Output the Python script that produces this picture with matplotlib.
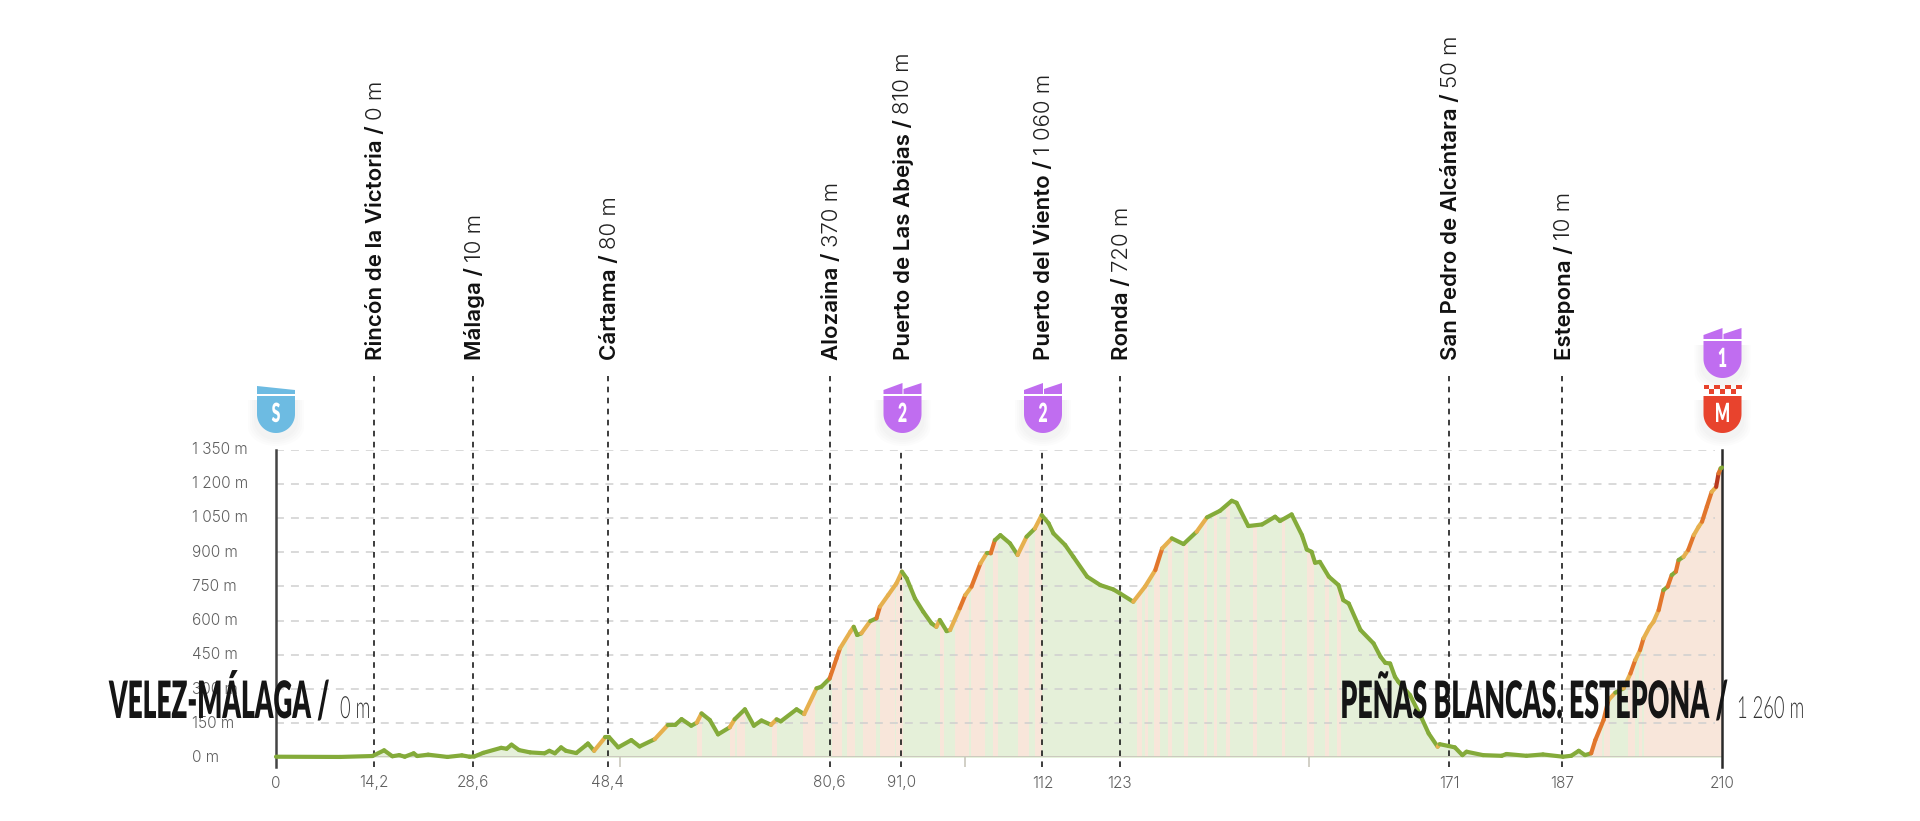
import numpy as np
import matplotlib
matplotlib.use("Agg")
import matplotlib.pyplot as plt
from matplotlib.collections import LineCollection
from matplotlib.patches import Polygon, Rectangle
from matplotlib.patheffects import AbstractPathEffect
from matplotlib.transforms import Affine2D

# profile: km, metres
km = [0, 9.3, 14, 15.7, 16.9, 17.9, 18.7, 20, 20.5, 22.1, 24.9, 27, 28.1, 28.8, 30.1, 32.7, 33.5, 34.2, 35.3, 36.9,
      39, 39.7, 40.5, 41.4, 42.1, 43.6, 45, 45.3, 46.2, 47.8, 48.4, 49.7, 51.6, 52.8, 55, 56.9, 58, 58.9, 60.3, 61.1,
      61.8, 63, 64.2, 65.9, 66.6, 68.1, 69.4, 70.5, 71.9, 72.7, 73.3, 75.6, 76.7, 78.5, 79.2, 80.4, 81.4, 81.9, 83.4, 83.9,
      84.4, 85, 86.3, 87.2, 87.7, 88.9, 90.1, 90.9, 91.6, 92.8, 94, 95.2, 95.9, 96.4, 97.4, 97.9, 99.3, 100.1, 101, 102.3,
      103.2, 103.8, 104.4, 105.2, 106.6, 107.7, 109, 110.2, 111.2, 112.2, 112.9, 114.6, 115.8, 117.8, 119.7, 121.6, 122.6, 124.5, 126.2, 127.7,
      128.7, 130.1, 131.8, 133.7, 135.2, 137.1, 138.8, 139.5, 141.2, 143.2, 145.1, 145.8, 147.5, 149, 149.7, 150.4, 150.9, 151.6, 152.9, 154.3,
      155, 155.8, 157.5, 159.4, 160.4, 161.1, 161.8, 162.5, 163, 164.7, 166.4, 167.4, 168.7, 169, 170.3, 171.2, 172.3, 172.9, 175.3, 178,
      178.7, 181.6, 184, 186.9, 188.1, 189.2, 190.1, 191, 191.6, 192.8, 193.5, 194.5, 195.7, 196.7, 197.4, 198.1, 198.6, 199.5, 200.05, 200.8,
      201.5, 202.1, 202.7, 203.3, 203.7, 204.4, 205.1, 205.9, 206.6, 207.1, 207.8, 208.5, 209.15, 209.5, 209.8, 210]
elev = [3, 2, 6, 31, 5, 10, 3, 18, 6, 12, 2, 9, 3, 4, 20, 42, 38, 56, 32, 22,
        18, 29, 18, 44, 29, 19, 53, 61, 29, 88, 88, 44, 76, 48, 80, 142, 143, 168, 139, 152,
        193, 164, 101, 132, 167, 211, 139, 162, 143, 167, 158, 211, 190, 303, 310, 346, 434, 478, 551, 573,
        537, 544, 598, 610, 661, 712, 763, 815, 785, 697, 639, 588, 573, 603, 554, 559, 654, 712, 749, 851,
        895, 895, 953, 975, 939, 888, 968, 1004, 1063, 1027, 983, 932, 880, 793, 756, 737, 719, 683, 749, 822,
        917, 961, 936, 990, 1053, 1082, 1126, 1117, 1015, 1022, 1056, 1037, 1066, 975, 912, 902, 854, 858, 793, 756,
        690, 675, 559, 500, 442, 415, 412, 354, 332, 273, 171, 105, 47, 58, 50, 44, 10, 25, 10, 7,
        15, 7, 13, 3, 7, 29, 10, 18, 76, 164, 251, 284, 303, 368, 427, 471, 522, 573, 595, 646,
        734, 749, 800, 815, 866, 880, 910, 975, 1012, 1034, 1100, 1165, 1187, 1246, 1268, 1272]

# stretches where the area turns pink
pink_from = [61.1, 65.9, 66.9, 72, 76.6, 80.7, 82.9, 85.3, 87.7, 90.1, 96.5, 98.6, 101, 104.2, 107.8, 110.2,
             125, 126.2, 127.5, 129.6, 131.8, 134.7, 136.2, 137.9, 141.9, 146.1, 149.7, 152.4, 154.1,
             190.9, 192.8, 196.4, 197.9, 198.6]
pink_to = [61.8, 66.6, 68.1, 72.7, 78.3, 82.2, 84.1, 87.2, 89.9, 91.1, 97, 100.6, 103, 104.9, 109.3, 111.2,
           125.8, 126.7, 128.4, 130.1, 132.5, 135.2, 136.6, 138.6, 142.5, 146.6, 150.7, 152.9, 154.6,
           192.5, 193.8, 197.4, 198.4, 210]

y_ticks = [0, 150, 300, 450, 600, 750, 900, 1050, 1200, 1350]
y_labels = ["0 m", "150 m", "300 m", "450 m", "600 m", "750 m", "900 m", "1 050 m", "1 200 m", "1 350 m"]
x_pos = [0, 14.2, 28.6, 48.2, 80.4, 90.8, 111.3, 122.5, 170.4, 186.8, 210]
x_labels = ["0", "14,2", "28,6", "48,4", "80,6", "91,0", "112", "123", "171", "187", "210"]
minor_km = [50, 100, 150]

places = ["Rincón de la Victoria", "Málaga", "Cártama", "Alozaina", "Puerto de Las Abejas", "Puerto del Viento",
          "Ronda", "San Pedro de Alcántara", "Estepona"]
heights = ["0 m", "10 m", "80 m", "370 m", "810 m", "1 060 m", "720 m", "50 m", "10 m"]
place_km = [14.2, 28.6, 48.2, 80.4, 90.8, 111.3, 122.5, 170.4, 186.8]
short_line = [False, False, False, False, True, True, False, False, False]

GREEN, YELLOW, ORANGE, RED = "#84ab3a", "#e6b04e", "#e2762c", "#b9391f"
FILL_GREEN, FILL_PINK = "#e5f0d9", "#f8e6da"
SANS = ["Inter", "DejaVu Sans"]
HEAD = ["Lato", "DejaVu Sans"]


class Squeeze(AbstractPathEffect):
    # no condensed face is installed, so narrow the glyphs around a pixel column
    def __init__(self, x0, sx):
        super().__init__()
        self.x0, self.sx = x0, sx

    def draw_path(self, renderer, gc, tpath, affine, rgbFace=None):
        squeezed = affine + Affine2D().translate(-self.x0, 0).scale(self.sx, 1).translate(self.x0, 0)
        renderer.draw_path(gc, tpath, squeezed, rgbFace)


def slope_color(rise):
    if rise < 30:
        return GREEN
    if rise < 70:
        return YELLOW
    if rise < 130:
        return ORANGE
    return RED


def shield(ov, cx, top, color, letter):
    # body of the badge, flat top and round bottom
    r = 19
    a = np.linspace(0, np.pi, 40)
    xs = np.r_[cx - r, cx + r, cx + r * np.cos(a)]
    ys = np.r_[top, top, top + 18 + r * np.sin(a)]
    for grow in [9, 7, 5, 3]:
        ov.add_patch(Polygon(np.c_[cx + (xs - cx) * (r + grow) / r, ys + 4 + grow * (ys > top + 18)],
                             fc="k", ec="none", alpha=0.012))
    ov.add_patch(Polygon(np.c_[xs, ys], fc=color, ec="none"))
    ov.text(cx, top + 18, letter, color="white", family=HEAD, weight=800, fontsize=19, ha="center", va="center",
            path_effects=[Squeeze(cx, 0.6)])


fig = plt.figure(figsize=(19.2, 8.21), dpi=100)
ax = fig.add_axes([276 / 1920, 1 - 757.4 / 821, (1722 - 276) / 1920, (757.4 - 449.7) / 821])
ax.set_xlim(0, 210)
ax.set_ylim(0, 1350)
ax.axis("off")

area = ax.fill_between(km, elev, 0, color=FILL_GREEN, lw=0, zorder=1)
for a, b in zip(pink_from, pink_to):
    band = ax.axvspan(a, b, color=FILL_PINK, lw=0, zorder=1.5)
    band.set_clip_path(area.get_paths()[0], area.get_transform())

for y in y_ticks[1:]:
    ax.plot([0, 209], [y, y], color="#cfcfcf", lw=1.1, dashes=(5.2, 4.6), zorder=2)
ax.plot([0, 210], [0, 0], color="#c9c7bc", lw=1.3, zorder=2)
ax.vlines(minor_km, -42, 0, color="#c9c7bc", lw=1.2, clip_on=False, zorder=2)

for p, short in zip(place_km, short_line):
    ax.plot([p, p], [-42, 1350 if short else 1672], color="#111111", lw=1.15, dashes=(3.5, 3.4),
            clip_on=False, zorder=3)
ax.plot([0, 0], [-42, 1350], color="#444444", lw=1.8, clip_on=False, zorder=3)
ax.plot([210, 210], [-42, 1350], color="#2a2a2a", lw=1.8, clip_on=False, zorder=3)

pts = np.c_[km, elev]
segs = np.stack([pts[:-1], pts[1:]], axis=1)
colors = [slope_color((elev[i + 1] - elev[i]) / (km[i + 1] - km[i])) for i in range(len(km) - 1)]
ax.add_collection(LineCollection(segs, colors=colors, linewidths=3.0, capstyle="round", zorder=4, clip_on=False))

# overlay in picture pixels for the texts and badges
ov = fig.add_axes([0, 0, 1, 1], facecolor="none")
ov.set_xlim(0, 1920)
ov.set_ylim(821, 0)
ov.axis("off")

for y, lab in zip(y_ticks, y_labels):
    ov.text(192, 757.4 - y * 34.2 / 150, lab, color="#5f5f5f", family=SANS, weight=300, fontsize=11, ha="left",
            va="center")
for p, lab in zip(x_pos, x_labels):
    ov.text(276 + p * 1446 / 210, 783, lab, color="#5f5f5f", family=SANS, weight=300, fontsize=11, ha="center",
            va="center")

for name, h, p in zip(places, heights, place_km):
    px = 276 + p * 1446 / 210 + 2
    t = ov.text(px, 360, name + " / ", color="#111111", family=SANS, weight=600, fontsize=16, rotation=90,
                ha="center", va="bottom")
    ov.annotate(h, xy=(0.5, 1), xycoords=t, color="#222222", family=SANS, weight=300, fontsize=16, rotation=90,
                ha="center", va="bottom")

ov.text(109, 718, "VELEZ-MÁLAGA /", color="#151515", family=HEAD, weight=800, fontsize=37, ha="left",
        va="baseline", path_effects=[Squeeze(109, 0.51)])
ov.text(340, 718, "0 m", color="#333333", family=HEAD, weight=300, fontsize=22, ha="left", va="baseline",
        path_effects=[Squeeze(340, 0.6)])
ov.text(1728, 718, "PEÑAS BLANCAS. ESTEPONA /", color="#151515", family=HEAD, weight=800, fontsize=37, ha="right",
        va="baseline", path_effects=[Squeeze(1728, 0.52)])
ov.text(1737, 718, "1 260 m", color="#333333", family=HEAD, weight=300, fontsize=22, ha="left", va="baseline",
        path_effects=[Squeeze(1737, 0.6)])

# badges
shield(ov, 276, 396, "#6dbbe2", "S")
ov.add_patch(Polygon([(257, 386), (295, 390), (295, 394), (257, 394)], fc="#6dbbe2", ec="none"))
PURPLE = "#c06df0"
for cx, top, lab in [(902.5, 396, "2"), (1043, 396, "2"), (1722.5, 341, "1")]:
    shield(ov, cx, top, PURPLE, lab)
    y0 = top - 2
    ov.add_patch(Polygon([(cx - 19, y0 - 4), (cx, y0 - 11), (cx, y0), (cx - 19, y0)], fc=PURPLE, ec="none"))
    ov.add_patch(Polygon([(cx + 1, y0 - 5), (cx + 19, y0 - 11), (cx + 19, y0), (cx + 1, y0)], fc=PURPLE, ec="none"))
shield(ov, 1722.5, 396, "#e8432d", "M")
for i in range(7):
    for row in (0, 1):
        if (i + row) % 2 == 0:
            ov.add_patch(Rectangle((1703.5 + i * 5.43, 385 + row * 4.5), 5.43, 4.5, fc="#e8432d", ec="none"))

fig.savefig("out.png", dpi=100)
